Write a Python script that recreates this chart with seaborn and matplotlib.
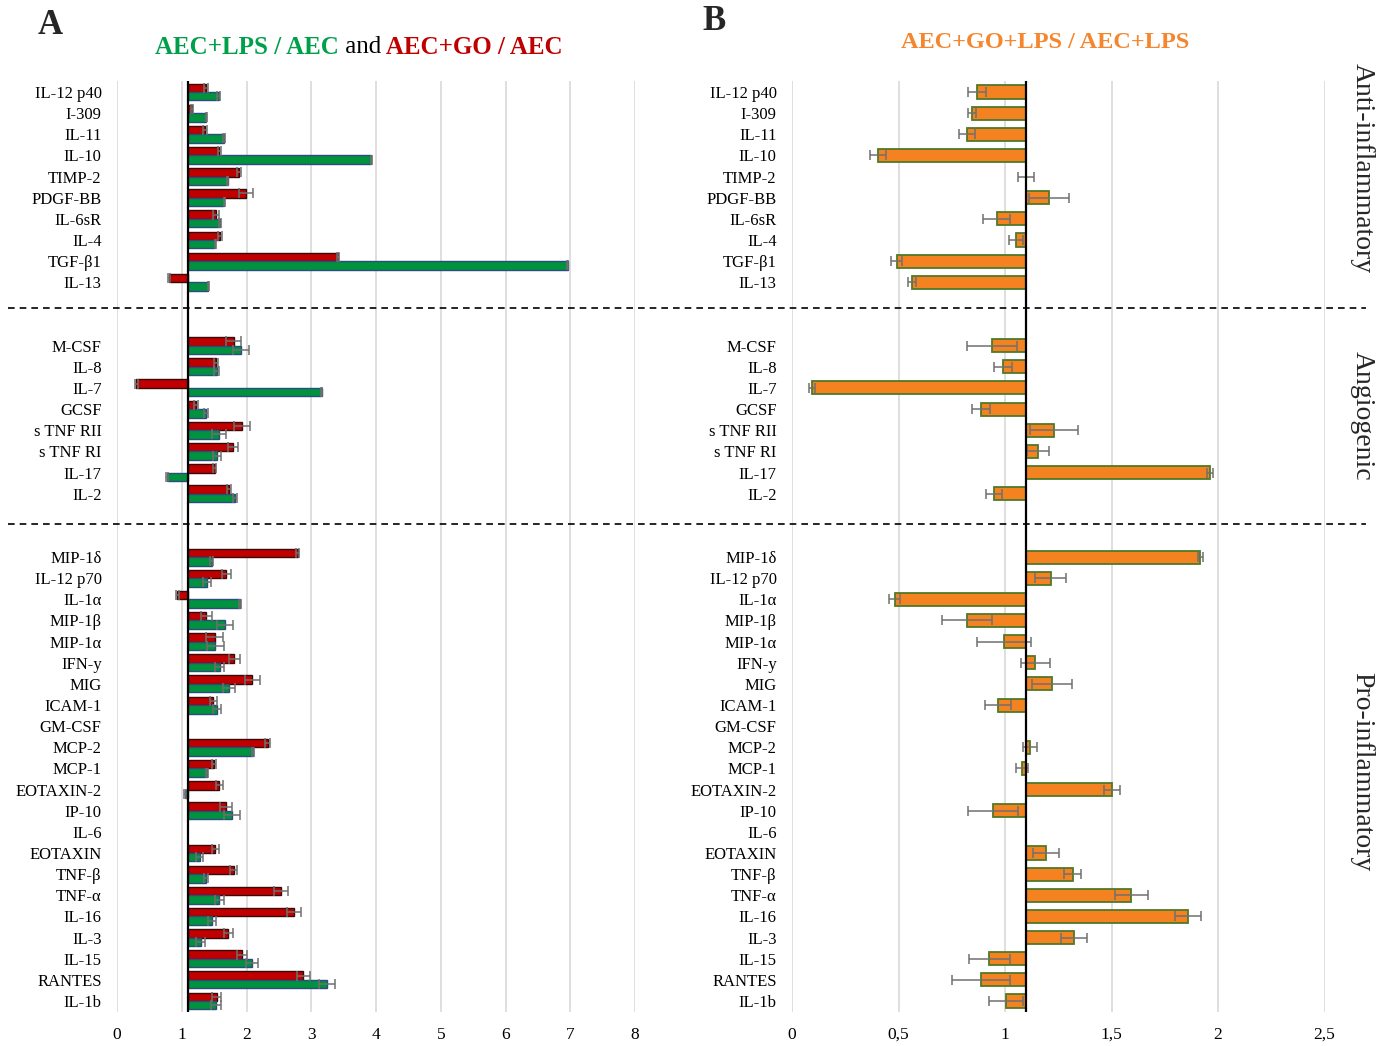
import numpy as np
import pandas as pd
import matplotlib
matplotlib.use("Agg")
import matplotlib.pyplot as plt
from matplotlib.lines import Line2D
import seaborn as sns

# ---------------- data ----------------
anti = ["IL-12 p40", "I-309", "IL-11", "IL-10", "TIMP-2", "PDGF-BB", "IL-6sR",
        "IL-4", "TGF-β1", "IL-13"]
angio = ["M-CSF", "IL-8", "IL-7", "GCSF", "s TNF RII", "s TNF RI", "IL-17", "IL-2"]
pro = ["MIP-1δ", "IL-12 p70", "IL-1α", "MIP-1β", "MIP-1α", "IFN-y", "MIG", "ICAM-1",
       "GM-CSF", "MCP-2", "MCP-1", "EOTAXIN-2", "IP-10", "IL-6", "EOTAXIN", "TNF-β",
       "TNF-α", "IL-16", "IL-3", "IL-15", "RANTES", "IL-1b"]
cytokines = anti + angio + pro

# Panel A: AEC+GO / AEC (red)
go_ratio = [1.38, 1.16, 1.36, 1.58, 1.89, 1.99, 1.53, 1.59, 3.41, 0.80,
            1.80, 1.53, 0.30, 1.22, 1.93, 1.79, 1.51, 1.73,
            2.79, 1.69, 0.93, 1.38, 1.51, 1.81, 2.09, 1.49, np.nan, 2.33, 1.50, 1.58,
            1.68, np.nan, 1.52, 1.80, 2.53, 2.74, 1.72, 1.93, 2.88, 1.54]
go_err = [0.03, 0.02, 0.03, 0.02, 0.03, 0.11, 0.05, 0.035, 0.02, 0.02,
          0.11, 0.03, 0.02, 0.03, 0.13, 0.077, 0.02, 0.036,
          0.02, 0.07, 0.02, 0.09, 0.13, 0.083, 0.12, 0.06, np.nan, 0.04, 0.03, 0.053,
          0.095, np.nan, 0.06, 0.053, 0.107, 0.107, 0.07, 0.083, 0.107, 0.07]
# Panel A: AEC+LPS / AEC (green)
lps_ratio = [1.57, 1.38, 1.655, 3.93, 1.71, 1.655, 1.59, 1.52, 6.96, 1.41,
             1.92, 1.54, 3.16, 1.38, 1.57, 1.55, 0.77, 1.82,
             1.46, 1.39, 1.90, 1.67, 1.52, 1.59, 1.73, 1.54, np.nan, 2.10, 1.39, 1.05,
             1.78, np.nan, 1.28, 1.37, 1.58, 1.47, 1.29, 2.09, 3.24, 1.53]
lps_err = [0.02, 0.01, 0.02, 0.01, 0.01, 0.01, 0.02, 0.01, 0.01, 0.01,
           0.125, 0.036, 0.01, 0.03, 0.11, 0.06, 0.02, 0.036,
           0.02, 0.065, 0.02, 0.12, 0.125, 0.07, 0.095, 0.065, np.nan, 0.02, 0.02, 0.01,
           0.12, np.nan, 0.053, 0.03, 0.07, 0.06, 0.07, 0.09, 0.125, 0.077]
# Panel B: AEC+GO+LPS / AEC+LPS (orange)
golps_ratio = [0.867, 0.846, 0.822, 0.403, 1.10, 1.207, 0.961, 1.051, 0.491, 0.564,
               0.939, 0.992, 0.094, 0.887, 1.230, 1.156, 1.964, 0.950,
               1.917, 1.214, 0.482, 0.822, 0.995, 1.142, 1.220, 0.967, np.nan, 1.118,
               1.079, 1.503, 0.943, np.nan, 1.192, 1.317, 1.593, 1.859, 1.324, 0.927,
               0.887, 1.005]
golps_err = [0.042, 0.02, 0.038, 0.038, 0.038, 0.095, 0.062, 0.034, 0.027, 0.018,
             0.117, 0.043, 0.016, 0.042, 0.111, 0.052, 0.014, 0.038,
             0.011, 0.072, 0.026, 0.118, 0.126, 0.069, 0.093, 0.063, np.nan, 0.033,
             0.029, 0.038, 0.119, np.nan, 0.060, 0.038, 0.077, 0.059, 0.063, 0.096,
             0.137, 0.080]

ticks_a = [0, 1, 2, 3, 4, 5, 6, 7, 8]
ticks_b = [0, 0.5, 1, 1.5, 2, 2.5]
ticklabels_b = ["0", "0,5", "1", "1,5", "2", "2,5"]

# ---------------- style ----------------
BASE = 1.1  # value at which the vertical axis crosses
RED, RED_EDGE = "#C00000", "#3A0A0A"
GREEN, GREEN_EDGE = "#00923F", "#2B4C7E"
ORANGE, ORANGE_EDGE = "#F58220", "#4E7A28"
ERR = "#707070"
GRID = "#D9D9D9"

sns.set_style("white")
plt.rcParams["font.family"] = ["Liberation Serif", "DejaVu Serif"]

# category order with blank spacer slots between groups
order = anti + [" ", "  "] + angio + ["   ", "    "] + pro
pos = {c: i for i, c in enumerate(order)}

fig = plt.figure(figsize=(13.96, 10.46), dpi=100)
W, H = 1396, 1046
top_px, bot_px = 81.4, 1011.6
ax_a = fig.add_axes([117 / W, 1 - bot_px / H, (635 - 117) / W, (bot_px - top_px) / H])
ax_b = fig.add_axes([792 / W, 1 - bot_px / H, (1324.5 - 792) / W, (bot_px - top_px) / H])

# ---------- panel A ----------
df_a = pd.concat([
    pd.DataFrame({"cytokine": cytokines, "ratio": go_ratio, "err": go_err, "series": "GO"}),
    pd.DataFrame({"cytokine": cytokines, "ratio": lps_ratio, "err": lps_err, "series": "LPS"}),
], ignore_index=True).dropna()
df_a["delta"] = df_a["ratio"] - BASE

sns.barplot(data=df_a, x="delta", y="cytokine", hue="series", order=order,
            hue_order=["GO", "LPS"], palette={"GO": RED, "LPS": GREEN},
            orient="h", width=0.8, saturation=1, errorbar=None, legend=False,
            left=BASE, linewidth=1.0, ax=ax_a, zorder=2)
for p in ax_a.patches:
    fc = matplotlib.colors.to_hex(p.get_facecolor())
    p.set_edgecolor(RED_EDGE if fc.lower() == RED.lower() else GREEN_EDGE)

for s, off in (("GO", -0.2), ("LPS", 0.2)):
    sub = df_a[df_a["series"] == s]
    ax_a.errorbar(sub["ratio"], [pos[c] + off for c in sub["cytokine"]], xerr=sub["err"],
                  fmt="none", ecolor=ERR, elinewidth=1.1, capsize=3.5, capthick=1.1, zorder=3)

# ---------- panel B ----------
df_b = pd.DataFrame({"cytokine": cytokines, "ratio": golps_ratio, "err": golps_err}).dropna()
df_b["delta"] = df_b["ratio"] - BASE
sns.barplot(data=df_b, x="delta", y="cytokine", order=order, color=ORANGE,
            orient="h", width=0.62, saturation=1, errorbar=None,
            left=BASE, edgecolor=ORANGE_EDGE, linewidth=1.3, ax=ax_b, zorder=2)
ax_b.errorbar(df_b["ratio"], [pos[c] for c in df_b["cytokine"]], xerr=df_b["err"],
              fmt="none", ecolor=ERR, elinewidth=1.1, capsize=3.5, capthick=1.1, zorder=3)

# ---------- common axis styling ----------
for ax, ticks, labels, xlim in ((ax_a, ticks_a, [str(t) for t in ticks_a], (0, 8)),
                                (ax_b, ticks_b, ticklabels_b, (0, 2.5))):
    ax.set_xlim(*xlim)
    ax.set_ylim(len(order) - 0.5, -0.5)
    ax.set_xticks(ticks)
    ax.set_xticklabels(labels, fontsize=12.5)
    ax.set_yticks(range(len(order)))
    ax.set_yticklabels([c.strip() for c in order], fontsize=12)
    ax.tick_params(axis="y", length=0, pad=11)
    ax.tick_params(axis="x", length=0, pad=11)
    ax.set_xlabel("")
    ax.set_ylabel("")
    for sp in ax.spines.values():
        sp.set_visible(False)
    ax.xaxis.grid(True, color=GRID, linewidth=1.2, zorder=0)
    ax.yaxis.grid(False)
    ax.set_axisbelow(True)
    ax.axvline(BASE, color="black", linewidth=1.6, zorder=4)
    for lab in ax.get_xticklabels() + ax.get_yticklabels():
        lab.set_color("black")

# ---------- dashed separators ----------
for ypx in (308, 524):
    fig.add_artist(Line2D([8 / W, 1366 / W], [1 - ypx / H, 1 - ypx / H],
                          transform=fig.transFigure, color="black", linewidth=1.2,
                          linestyle=(0, (4, 3))))

# ---------- titles ----------
fig.text(50 / W, 1 - 25 / H, "A", fontsize=25, fontweight="bold", ha="center", va="center")
fig.text(714 / W, 1 - 22 / H, "B", fontsize=25, fontweight="bold", ha="center", va="center")

fig.canvas.draw()
renderer = fig.canvas.get_renderer()


def multicolor(x, y, parts, size):
    cur = x
    for s, c, w in parts:
        t = fig.text(cur, y, s, color=c, fontweight=w, fontsize=size, ha="left", va="center")
        bb = t.get_window_extent(renderer=renderer)
        cur = bb.x1 / fig.bbox.width


multicolor(155 / W, 1 - 47 / H,
           [("AEC+LPS / AEC", "#00A04A", "bold"), (" and", "black", "normal"),
            (" AEC+GO / AEC", RED, "bold")], 18)
fig.text(1045 / W, 1 - 43 / H, "AEC+GO+LPS / AEC+LPS", color="#F5862E",
         fontweight="bold", fontsize=17.5, ha="center", va="center")

for label, ypx in (("Anti-inflammatory", 168), ("Angiogenic", 416), ("Pro-inflammatory", 772)):
    fig.text(1362 / W, 1 - ypx / H, label, rotation=270, fontsize=20,
             ha="center", va="center")

fig.savefig("out.png", dpi=100)
